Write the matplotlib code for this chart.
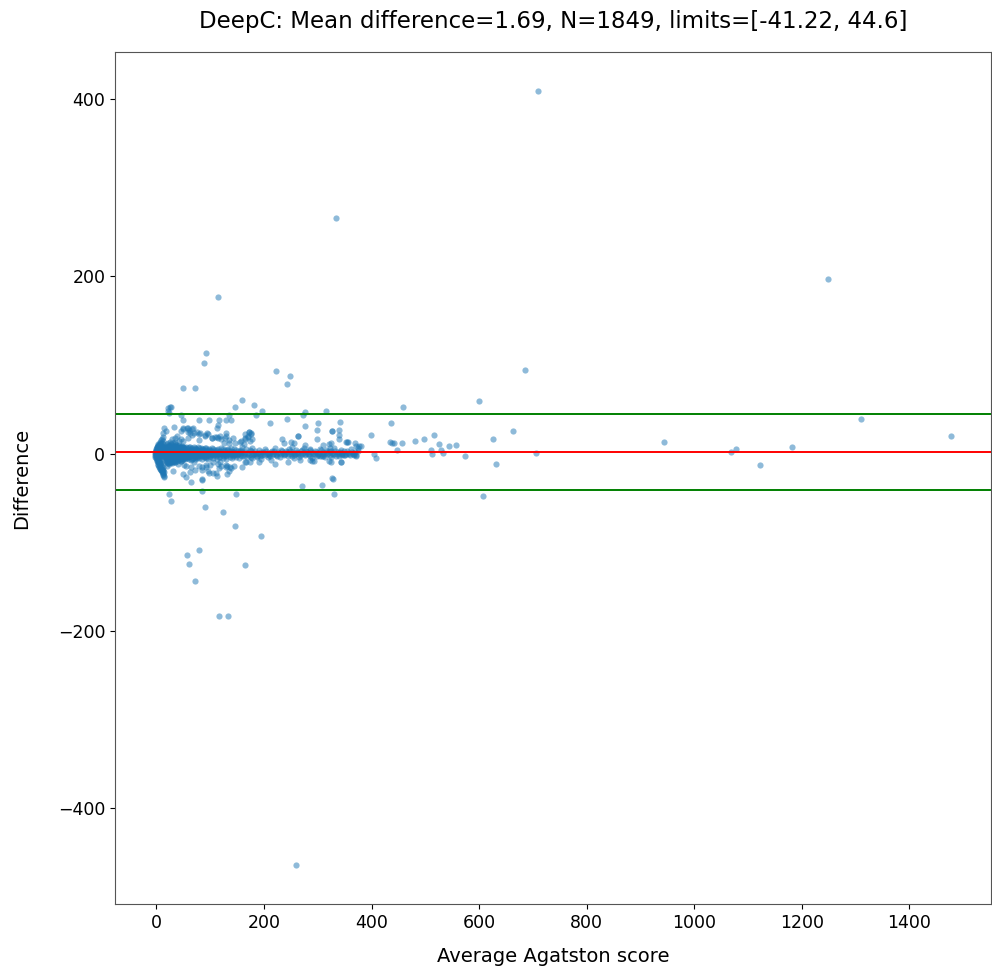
import matplotlib
matplotlib.use("Agg")
import matplotlib.pyplot as plt
import numpy as np

# ---- summary values (from title) ----
method = "DeepC"
mean_diff = 1.69
n_total = 1849
lower_limit = -41.22
upper_limit = 44.6

# ---- near-zero strip: (average score, difference) ----
strip_points = [
    (0, 0), (0, 1), (0, -1), (0, 2), (0, -2), (0, 3), (0, -3), (0, 4), (0, -4), (0, 5), (0, -5),
    (1, 6), (1, -6), (1, 7), (1, -7), (1, 8), (1, -8), (2, 9), (2, -9), (2, 10), (2, -10),
    (3, 11), (3, -12), (3, 6), (3, -13), (4, 8), (4, -14), (5, 9), (5, -15), (5, 4), (6, -16),
    (6, 11), (7, -17), (7, 13), (8, -18), (8, 15), (9, -19), (10, -20), (10, 17), (11, -21),
    (12, -22), (12, 19), (13, -23), (13, -24), (14, -25), (14, -26), (-2, 1), (-3, -2), (-1, 3),
    (-2, -4), (1, 0), (2, -1), (3, 1), (4, -1), (5, 2), (6, -2), (7, 3), (8, -3), (9, 1), (10, -1),
    (11, 2), (12, -2), (2, 4), (3, -5), (4, 6), (5, -7), (6, 7), (7, -9), (8, 10), (9, -11),
    (10, 12), (11, -13), (12, 14), (13, -15), (1, -3), (2, -4), (3, -6), (4, -8), (5, -10),
    (6, -11), (7, -12), (8, -14), (9, -16), (10, -17), (11, -18), (12, -19), (13, -20), (14, -21),
    (0, 3), (1, 2), (2, 5), (3, 7), (4, 9), (5, 10), (6, 12), (7, 5), (8, 8), (9, 6), (10, 9),
    (11, 7), (12, 11), (13, 4),
]

# ---- dense band of small differences ----
core_points = [
    (15, 3), (15, -4), (16, 6), (16, -2), (17, 1), (17, -7), (18, 8), (18, -5), (19, 2), (19, -1),
    (20, 5), (20, -9), (21, 0), (21, 7), (22, -3), (22, 4), (23, 9), (23, -6), (24, 1), (24, -2),
    (25, 6), (25, -8), (26, 3), (26, -1), (27, 10), (27, -4), (28, 2), (28, -6), (29, 5), (29, 0),
    (30, -3), (30, 8), (31, 1), (31, -7), (32, 4), (32, -2), (33, 6), (33, -5), (34, 0), (34, 3),
    (35, -4), (35, 9), (36, 2), (36, -1), (37, 5), (37, -6), (38, 1), (38, -3), (39, 7), (39, 0),
    (40, -2), (40, 4), (41, 6), (41, -5), (42, 1), (42, -1), (43, 3), (43, -4), (44, 8), (44, 0),
    (45, 2), (45, -6), (46, 5), (46, -2), (47, -1), (47, 3), (48, 7), (48, -4), (49, 1), (49, -3),
    (50, 4), (50, 0), (52, 6), (52, -2), (54, 2), (54, -5), (55, 3), (56, -1), (57, 5), (58, -3),
    (59, 1), (60, 7), (61, -4), (62, 2), (63, 0), (64, 5), (65, -2), (66, 3), (67, -6), (68, 1),
    (69, 4), (70, -1), (71, 6), (72, -3), (73, 2), (74, 0), (75, 4), (76, -5), (77, 1), (78, 3),
    (79, -2), (80, 6), (82, 0), (83, 2), (84, -3), (85, 5), (86, 1), (88, -1), (89, 3), (90, -4),
    (92, 2), (93, 6), (94, 0), (96, -2), (97, 4), (98, 1), (100, -3), (101, 3), (103, 0), (105, 5),
    (106, -2), (108, 2), (110, -1), (112, 4), (114, 0), (116, -4), (118, 3), (120, 1), (122, -2),
    (124, 5), (126, 0), (128, 2), (130, -3), (132, 4), (134, 1), (136, -1), (138, 3), (140, -5),
    (142, 2), (145, 0), (148, 4), (150, -2), (153, 1), (156, 3),
    (18, 0), (21, 1), (24, -1), (27, 0), (30, 1), (33, -1), (36, 0), (39, 2), (42, 0), (45, -1),
    (48, 1), (51, 0), (53, -1), (56, 1), (58, 0), (61, -1), (64, 1), (67, 0), (70, 2), (73, -1),
    (77, 0), (81, 1), (87, -1), (91, 0), (95, 2), (99, -1), (104, 1), (109, 0), (115, -1), (121, 1),
    (127, 0), (133, -1), (139, 1), (146, 0), (152, -1), (158, 1), (20, -2), (26, 2), (32, -3),
    (38, 3), (44, -2), (50, 2), (57, -3), (63, 3), (69, -2), (76, 2), (83, -2), (91, 2), (99, 2),
    (107, -2), (117, 2), (129, -2), (143, 2), (157, -2),
    (5, 0), (6, 1), (7, -1), (8, 2), (9, -2), (10, 3), (11, -3), (12, 4), (13, -4), (14, 5),
    (15, -6), (16, 7), (17, -8), (18, 9), (19, -10), (20, 11), (21, -11), (22, 12), (23, -12),
    (24, 10), (25, -10), (26, 13), (27, -9), (28, 11), (29, -11), (30, 12), (31, -10), (32, 9),
    (33, -8), (34, 11), (35, -9), (36, 10), (37, -7), (38, 8), (39, -8), (40, 9), (41, -7),
    (42, 10), (43, -6), (44, 7), (45, -8), (46, 8), (47, -7), (48, 9), (49, -6), (50, 7), (51, -5),
    (52, 8), (53, -6), (55, 7), (56, -5), (58, 6), (60, -6), (62, 8), (64, -7), (66, 6), (68, -5),
    (70, 7), (72, -6), (74, 5), (76, -4), (78, 7), (80, -5), (82, 6), (84, -6), (86, 5), (88, -4),
    (90, 6), (92, -5), (94, 4), (96, -6), (98, 5), (100, -4), (103, 6), (106, -5), (109, 4),
    (112, -6), (115, 5), (118, -4), (121, 6), (124, -5), (127, 4), (130, -6), (133, 5), (136, -4),
    (139, 6), (142, -3), (145, 5), (148, -4), (151, 3), (154, -5), (157, 4), (160, -3),
    (17, 3), (19, -4), (21, 4), (23, -3), (25, 2), (27, -2), (29, 3), (31, -4), (33, 2), (35, -2),
    (37, 3), (39, -4), (41, 2), (43, -2), (45, 4), (47, -3), (49, 5), (51, -4), (53, 3), (55, -2),
    (57, 2), (59, -4), (61, 3), (63, -3), (65, 4), (67, -2), (69, 2), (71, -4), (73, 5), (75, -3),
    (77, 3), (79, 0), (81, -3), (83, 4), (85, -1), (87, 3), (89, -2), (91, 4), (93, -3), (95, 1),
    (97, -1), (99, 3), (102, -1), (104, 3), (107, 1), (111, -3), (113, 2), (119, -1), (123, 3),
    (125, -3), (131, 1), (135, 3), (137, -2), (141, 0), (144, -2), (147, 2), (149, 0),
]

# ---- band of small differences at mid scores ----
mid_points = [
    (160, 2), (163, -3), (166, 5), (169, 0), (172, -2), (175, 3), (178, 6), (181, -1), (184, 1),
    (187, -4), (190, 4), (193, 0), (196, -2), (199, 2), (202, 5), (205, -1), (208, 1), (211, -3),
    (214, 3), (217, 0), (220, 6), (223, -2), (226, 2), (229, -4), (232, 4), (235, 1), (238, -1),
    (241, 3), (244, -3), (247, 5), (250, 0), (253, 2), (256, -2), (259, 4), (262, 1), (265, -4),
    (268, 3), (271, 0), (274, 6), (277, -2), (280, 2), (283, -1), (286, 4), (289, -5), (292, 1),
    (295, 3), (298, -3), (301, 0), (304, 5), (307, -1), (310, 2), (313, -4), (316, 4), (319, 1),
    (322, -2), (325, 3), (328, 0), (331, 6), (334, -3), (337, 2), (340, -1), (343, 4), (346, 1),
    (350, -2), (354, 3), (358, 0), (362, 5), (366, -1), (370, 2), (374, 6), (372, -3), (374, 3),
    (162, -1), (165, 2), (168, -4), (171, 1), (174, 4), (177, -2), (180, 0), (183, 3), (186, -1),
    (189, 1), (192, -3), (195, 2), (198, 0), (201, -2), (204, 3), (207, -4), (210, 0), (213, 2),
    (216, -1), (219, 3), (222, 0), (225, -3), (228, 1), (231, -1), (234, 3), (237, -2), (240, 0),
    (243, 2), (246, -1), (249, 3), (252, -3), (255, 1), (258, -1), (261, 2), (264, 0), (267, -2),
    (270, 4), (273, 1), (276, -1), (279, 3), (282, 0), (285, -3), (288, 2), (291, -1), (294, 0),
    (297, 2), (300, -2), (303, 1), (306, 4), (309, -3), (312, 0), (315, 2), (318, -1), (321, 3),
    (324, -4), (327, 1), (330, -1), (333, 3), (336, 0), (339, -3), (342, 2), (345, 0), (348, 3),
    (352, -1), (356, 1), (360, -2), (364, 2), (368, 0),
]

# ---- scattered points within / near the limits ----
spread_points = [
    (22, 51), (25, 53), (28, 53), (21, 48), (23, 46), (46, 44), (50, 38), (80, 38), (97, 38),
    (116, 38), (130, 38), (138, 38), (114, 32), (113, 29), (32, 30), (15, 29), (17, 25), (13, 23),
    (49.5, 29), (57, 28.5), (68.6, 28.5), (60.6, 26.7), (70, 22.9), (66, 21.4), (58.8, 24), (80, 22),
    (89.7, 21), (94.6, 23.3), (102.6, 17.3), (108, 18.4), (117.5, 19.5), (129, 23), (127.5, 17.7),
    (114, 17.3), (135.4, 15.8), (142.9, 17.3), (126, 11.6), (146, 12), (134.8, 11.6), (155, 12.8),
    (157.7, 13.9), (163.8, 22.5), (170, 18.4), (38.3, 20), (35, 13.5), (34, 17.7), (41.4, 14.3),
    (45, 16.6), (50, 13.9), (58.8, 17.7), (28.4, 16.6),
    (30, -7.5), (27.8, -9.8), (34.6, -9.2), (21, -10.5), (46.4, -8.7), (51.4, -13.2), (55, -14.3),
    (65, -15.4), (63, -21), (71, -18.4), (70, -9.4), (85, -15.4), (91.5, -15), (85, -19), (96, -19.9),
    (114.5, -11.6), (105, -9.8), (99, -13.2), (106, -21.8), (117, -16.1), (120.6, -13.9),
    (129, -13.2), (131.7, -14.3), (136, -15.4), (138, -16.1), (144.7, -13.5), (160, -15.4),
    (131.7, -22.9), (65, -32.3), (84, -29.3), (113, -25.6),
    (340, 26.7), (340, 20.6), (339, 16.6), (298.7, 27), (298, 16.6), (263.5, 19.5), (233.8, 16.6),
    (237, 12), (250, 12.8), (251.8, 7.9), (275.9, 10.1), (310, 9.4), (321.5, 10.5), (323.4, 6.8),
    (352.5, 12.8), (355.6, 12.8), (369.8, 12), (371, 9), (371, -1.9), (172, 24), (175, 23.3),
    (170, 19.5), (165, 16.6), (162.7, 11.3), (159.6, 7.5),
    (220, -12), (245, -9.8), (286, -7.5), (289, -7.9), (293.7, -8.3), (305, -3), (307, -2.3),
    (321.5, -8.3), (343, -9), (345, -1.5), (368, -1.5), (267, -7.1), (256.6, -5.3), (212.8, -6.8),
    (210, -1.5), (195, -5.6), (186.8, -3), (177.5, -4.9), (166.4, -9.8), (174.4, -9.8), (190.5, -9.8),
    (20.4, -13.5), (31.5, -19.5), (39.5, -11.3), (49.5, -22.5), (54.4, -26), (80, -14.3),
    (84.7, -28.2), (92, -13.2), (97, -22.2), (110, -22.2), (118.7, -9), (130, -15), (135, -19.5),
    (165, -9.8), (176, -4.1),
    (45, 25.5), (50, 27.8), (58.8, 29.3), (66.8, 27.8), (62.5, 22.9), (75.5, 24.8), (80.4, 23.3),
    (96, 22.2), (91, 20), (80, 15), (103, 17.3), (113, 18.8), (120.6, 16.6), (128.6, 19.5),
    (164, 17.3), (172.5, 24), (176, 22.2), (174, 14.7), (178, 16.6), (211, 35), (243, 39),
    (277, 31), (300, 34), (341, 36), (326, 25), (263, 19.5), (255, 12), (285, 5),
    (435, 13), (438, 12), (442, 11.6), (457, 12), (526, 11), (545, 8.6), (558, 9.7), (448, 3.8),
    (510, 3.8), (529, 3.8), (533, 1), (513, -1), (573, -2.3), (405, -1), (408, -5), (380, 9),
    (399, 21), (517, 20.7), (481, 14.7), (498, 16.5), (436, 35), (376, 9), (354, 12.6),
    (348, -1.5), (343, -9), (328, -28.6), (326, 25), (325, 12), (325, -9),
]

# ---- clear outliers ----
outlier_points = [
    (710, 409), (334, 265), (1249, 197), (115, 176), (685, 94), (223, 93), (93, 113), (88, 102),
    (248, 87), (242, 79), (49, 74), (71, 74), (600, 59), (159, 60), (459, 52), (316, 48), (277, 47),
    (272, 44), (182, 55), (197, 48), (185, 44), (147, 52), (135, 44),
    (607, -48), (331, -45), (270, -36), (308, -35), (326, -28), (28, -53), (24, -46), (84, -42),
    (148, -45), (90, -60), (124, -66), (146, -82), (195, -93), (80, -109), (57, -114), (60, -124),
    (164, -125), (72, -144), (117, -183), (133, -183), (260, -464),
    (944, 13), (1068, 2), (1078, 5), (1123, -13), (1182, 8), (1311, 39), (1478, 20), (706, 1),
    (664, 25), (625, 17), (632, -12),
]

all_points = strip_points + core_points + mid_points + spread_points + outlier_points
avg_score = np.array([p[0] for p in all_points], dtype=float)
difference = np.array([p[1] for p in all_points], dtype=float)

fig = plt.figure(figsize=(9.92, 9.69), dpi=100)
ax = fig.add_axes([115 / 992, 65 / 969, 876 / 992, 852 / 969])

ax.scatter(avg_score, difference, s=20, alpha=0.5, color="C0", linewidths=0)
ax.axhline(mean_diff, color="red", linewidth=1.4)
ax.axhline(upper_limit, color="green", linewidth=1.4)
ax.axhline(lower_limit, color="green", linewidth=1.4)

ax.set_title(f"{method}: Mean difference={mean_diff}, N={n_total}, limits=[{lower_limit}, {upper_limit}]",
             fontsize=16.5, pad=17.5)
ax.set_xlabel("Average Agatston score", fontsize=14, labelpad=11)
ax.set_ylabel("Difference", fontsize=14, labelpad=19)
ax.tick_params(labelsize=12.5)
for sp in ax.spines.values():
    sp.set_color("#555555")

fig.savefig("out.png", dpi=100)
